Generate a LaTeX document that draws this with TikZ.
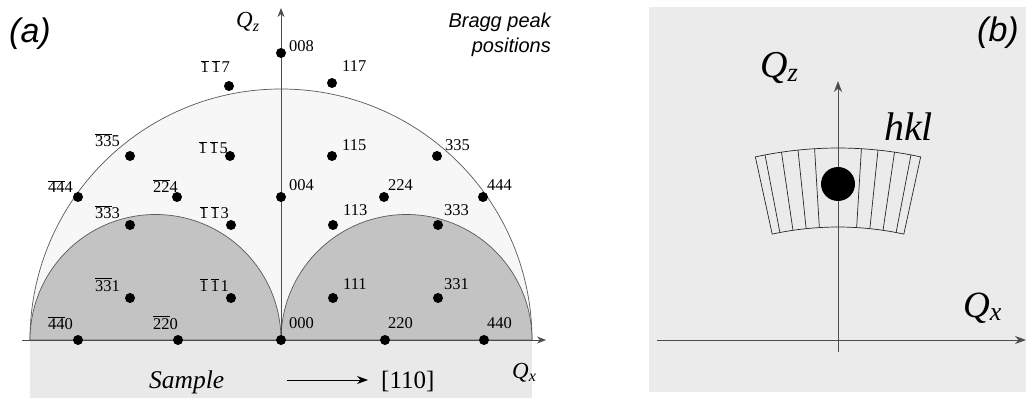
\documentclass[tikz,border=0pt]{standalone}
\usepackage{fontspec}
\setmainfont{Liberation Serif}
\newfontfamily\sansf{Liberation Sans}
\usetikzlibrary{arrows.meta,calc}
\newcommand\ob[1]{$\overline{\mbox{#1}}$}
\definecolor{sampleclr}{HTML}{E9E9E9}
\definecolor{bigclr}{HTML}{F7F7F7}
\definecolor{smallclr}{HTML}{C3C3C3}
\definecolor{bclr}{HTML}{EBEBEB}
\tikzset{
  dot/.style={circle,fill=black,inner sep=0pt,minimum size=10pt},
  idx/.style={inner sep=0pt,font=\fontsize{16.5}{16.5}\selectfont},
  axisline/.style={draw=black!70,line width=0.9pt},
  arcline/.style={draw=black!65,line width=0.7pt},
  arr/.style={-{Stealth[length=9pt,width=7pt]}},
  bigarr/.style={-{Stealth[length=11pt,width=8pt]}},
  qlab/.style={inner sep=0pt,anchor=base west},
  plab/.style={inner sep=0pt,anchor=base west,font=\sansf\itshape\fontsize{34}{34}\selectfont},
  sect/.style={draw=black!85,line width=0.7pt}
}
\begin{document}
\begin{tikzpicture}[x=1pt,y=-1pt]
\useasboundingbox (0,0) rectangle (1026,398);
% ---------------- panel (a) ----------------
\fill[sampleclr] (30,340) rectangle (532,398);
\draw[arcline,fill=bigclr] (30,340) arc[start angle=180,end angle=0,radius=251pt] -- cycle;
\draw[arcline,fill=smallclr] (30,340) arc[start angle=180,end angle=0,radius=125.5pt] -- cycle;
\draw[arcline,fill=smallclr] (281,340) arc[start angle=180,end angle=0,radius=125.5pt] -- cycle;
\coordinate (qxs) at (22,340);
\coordinate (qxe) at (546,340);
\coordinate (qzs) at (281,340);
\coordinate (qze) at (281,8);
\draw[axisline,arr] (qxs) -- (qxe);
\draw[axisline,arr] (qzs) -- (qze);
% dots
\node[dot] (d008) at (281,53) {};
\node[dot] (d004) at (281,197) {};
\node[dot] (d000) at (281,340) {};
\node[dot] (d117) at (332,83) {};
\node[dot] (d115) at (332,156) {};
\node[dot] (d113) at (333,225) {};
\node[dot] (d111) at (333,298) {};
\node[dot] (d335) at (437,156) {};
\node[dot] (d333) at (438,225) {};
\node[dot] (d331) at (438,298) {};
\node[dot] (d224) at (384,197) {};
\node[dot] (d444) at (483,197) {};
\node[dot] (d220) at (385,340) {};
\node[dot] (d440) at (484,340) {};
\node[dot] (m117) at (229,86) {};
\node[dot] (m115) at (230,156) {};
\node[dot] (m113) at (231,225) {};
\node[dot] (m111) at (231,298) {};
\node[dot] (m335) at (130,156) {};
\node[dot] (m333) at (130,225) {};
\node[dot] (m331) at (130,298) {};
\node[dot] (m224) at (177,197) {};
\node[dot] (m444) at (78,197) {};
\node[dot] (m220) at (178,340) {};
\node[dot] (m440) at (78,340) {};
% positive labels
\node[idx,anchor=base west] (l008) at (289,52) {008};
\node[idx,anchor=base west] (l004) at (289,191) {004};
\node[idx,anchor=base west] (l000) at (289,328) {000};
\node[idx,anchor=base west] (l117) at (342,72) {117};
\node[idx,anchor=base west] (l115) at (342,151) {115};
\node[idx,anchor=base west] (l113) at (343,216) {113};
\node[idx,anchor=base west] (l111) at (343,290) {111};
\node[idx,anchor=base west] (l335) at (445,151) {335};
\node[idx,anchor=base west] (l333) at (444,216) {333};
\node[idx,anchor=base west] (l331) at (444,290) {331};
\node[idx,anchor=base west] (l224) at (388,191) {224};
\node[idx,anchor=base west] (l444) at (487,191) {444};
\node[idx,anchor=base west] (l220) at (388,328) {220};
\node[idx,anchor=base west] (l440) at (487,328) {440};
% negative labels
\node[idx,anchor=base east] (n117) at (230,73) {\ob{1}\kern3pt\ob{1}\kern1.5pt7};
\node[idx,anchor=base east] (n115) at (228,154) {\ob{1}\kern3pt\ob{1}\kern1.5pt5};
\node[idx,anchor=base east] (n113) at (229,219) {\ob{1}\kern3pt\ob{1}\kern1.5pt3};
\node[idx,anchor=base east] (n111) at (229,291) {\ob{1}\kern3pt\ob{1}\kern1.5pt1};
\node[idx,anchor=base east] (n335) at (120,147) {\ob{33}5};
\node[idx,anchor=base east] (n333) at (120,219) {\ob{33}3};
\node[idx,anchor=base east] (n331) at (120,291) {\ob{33}1};
\node[idx,anchor=base east] (n224) at (178,193) {\ob{22}4};
\node[idx,anchor=base east] (n444) at (73,193) {\ob{44}4};
\node[idx,anchor=base east] (n220) at (178,329) {\ob{22}0};
\node[idx,anchor=base east] (n440) at (73,329) {\ob{44}0};
% axis labels and texts
\node[qlab,font=\itshape\fontsize{23}{23}\selectfont] (aqz) at (236,28) {Q\textsubscript{z}};
\node[qlab,font=\itshape\fontsize{23}{23}\selectfont] (aqx) at (512,378) {Q\textsubscript{x}};
\node[qlab,font=\itshape\fontsize{25.5}{25.5}\selectfont] (sample) at (149,388) {Sample};
\node[qlab,font=\fontsize{25}{25}\selectfont] (dir) at (381,388) {[110]};
\coordinate (arrS) at (287,380);
\coordinate (arrE) at (368,380);
\draw[line width=0.9pt,-{Stealth[length=11pt,width=8pt]}] (arrS) -- (arrE);
\node[inner sep=0pt,anchor=base east,font=\sansf\itshape\fontsize{20}{20}\selectfont] (bragg1) at (551,28) {Bragg peak};
\node[inner sep=0pt,anchor=base east,font=\sansf\itshape\fontsize{20}{20}\selectfont] (bragg2) at (551,53) {positions};
\node[plab] (pa) at (9,43) {(a)};
% ---------------- panel (b) ----------------
\fill[bclr] (649,7) rectangle (1026,392);
\coordinate (bxs) at (657,340);
\coordinate (bxe) at (1026,340);
\coordinate (bzs) at (838,352);
\coordinate (bze) at (838,81);
\coordinate (C) at (838,536);
\draw[sect] ($(C)+(102.3:388pt)$) arc[start angle=102.3,end angle=77.7,radius=388pt]
  -- ($(C)+(77.7:309pt)$) arc[start angle=77.7,end angle=102.3,radius=309pt] -- cycle;
\foreach \a in {79.16,81.62,84.08,86.54,93.46,95.92,98.38,100.84}
  \draw[sect] ($(C)+(\a:309pt)$) -- ($(C)+(\a:388pt)$);
\draw[axisline,bigarr] (bxs) -- (bxe);
\draw[axisline,bigarr] (bzs) -- (bze);
\node[circle,fill=black,inner sep=0pt,minimum size=34pt] (peak) at (838,184) {};
\node[qlab,font=\itshape\fontsize{38}{38}\selectfont] (bqz) at (760,78) {Q\textsubscript{z}};
\node[qlab,font=\itshape\fontsize{37}{37}\selectfont] (bqx) at (963,317) {Q\textsubscript{x}};
\node[qlab,font=\itshape\fontsize{40}{40}\selectfont] (hkl) at (884,141) {hkl};
\node[plab] (pb) at (977,42) {(b)};
\end{tikzpicture}
\end{document}
